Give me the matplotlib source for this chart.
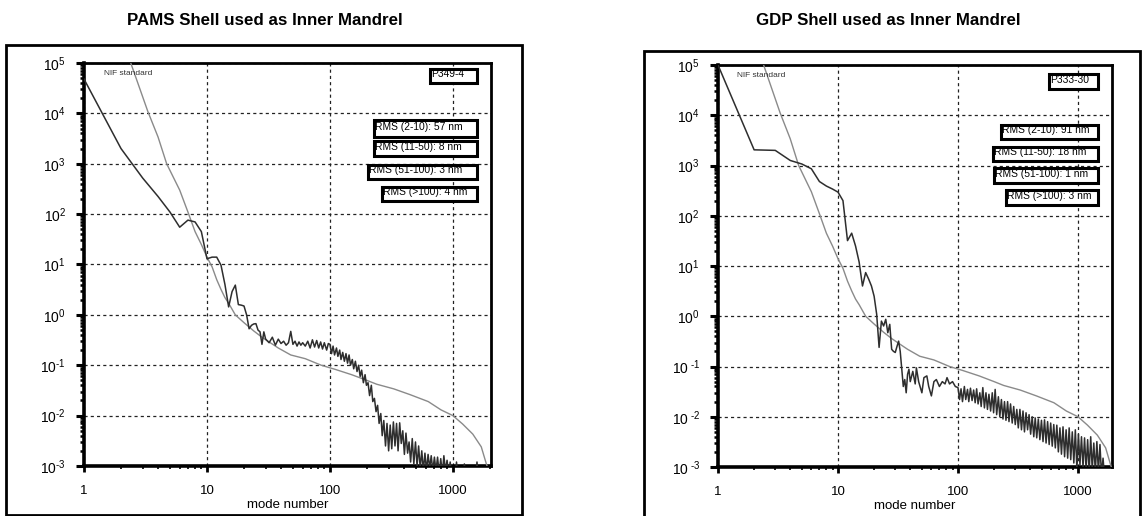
import numpy as np
import matplotlib
matplotlib.use('Agg')
import matplotlib.pyplot as plt
from matplotlib.patches import Rectangle
from matplotlib.ticker import LogLocator, NullFormatter

plt.rcParams['font.family'] = ['Liberation Sans', 'DejaVu Sans']
plt.rcParams['mathtext.fontset'] = 'custom'
plt.rcParams['mathtext.rm'] = 'Liberation Sans'
plt.rcParams['mathtext.it'] = 'Liberation Sans:italic'
plt.rcParams['mathtext.bf'] = 'Liberation Sans:bold'

# NIF standard curve (same on both panels)
nif_modes = [2, 2.4, 3.3, 4, 4.7, 6, 7, 8, 9, 10, 11, 12, 13, 14, 15, 17, 20, 24, 28, 32,
             38, 48, 63, 85, 110, 150, 200, 240, 330, 450, 630, 800, 1000, 1200, 1450,
             1700, 1850, 1950]
nif_values = [3e5, 1e5, 1.1e4, 3400, 1000, 300, 110, 45, 25, 14, 9, 5, 3.2, 2.2, 1.7, 1.0,
              0.7, 0.48, 0.36, 0.29, 0.22, 0.16, 0.135, 0.1, 0.083, 0.065, 0.05, 0.042,
              0.034, 0.026, 0.019, 0.013, 0.010, 0.0068, 0.0043, 0.0024, 0.0012, 0.0008]

# mode numbers of the dense part of the measured spectra (100 and up)
dense_modes = [100, 103, 106, 109, 113, 116, 120, 123, 127, 131,
               135, 139, 143, 147, 152, 156, 161, 166, 171, 176,
               181, 187, 193, 198, 204, 210, 217, 223, 230, 237,
               244, 251, 259, 266, 274, 283, 291, 300, 309, 318,
               328, 338, 348, 358, 369, 380, 391, 403, 415, 428,
               440, 453, 467, 481, 496, 511, 526, 542, 558, 575,
               592, 610, 628, 647, 666, 686, 707, 728, 750, 773,
               796, 820, 844, 870, 896, 923, 950, 979, 1008, 1038,
               1069, 1101, 1134, 1168, 1203, 1239, 1276, 1314, 1354, 1394,
               1436, 1479, 1524, 1569, 1617, 1665]

# PAMS shell P349-4
pams_modes = [1, 2, 3, 4, 5, 6, 7, 8, 9, 10, 11, 12, 13, 14, 15, 16, 17, 18, 19, 20,
              21, 22, 23, 24, 25, 26, 27, 28, 29, 30, 32, 34, 36, 38, 40, 42, 44, 46, 48, 50,
              52, 54, 56, 58, 60, 63, 66, 69, 72, 75, 78, 81, 84, 87, 90, 94, 97]
pams_values = [48000, 2000, 520, 224, 110, 55, 76, 70, 45, 13, 14, 14, 9.7, 4, 1.44, 2.9, 3.9, 1.6, 1.56, 1.5,
               1.0, 0.53, 0.62, 0.66, 0.67, 0.5, 0.46, 0.26, 0.46, 0.33, 0.28, 0.36, 0.25, 0.33, 0.27, 0.3, 0.25, 0.28, 0.47, 0.26,
               0.3, 0.24, 0.29, 0.25, 0.28, 0.24, 0.3, 0.22, 0.32, 0.23, 0.31, 0.22, 0.29, 0.21, 0.28, 0.2, 0.27]
pams_dense = [0.26, 0.17, 0.24, 0.16, 0.22, 0.15, 0.2, 0.13, 0.18, 0.12,
              0.17, 0.11, 0.16, 0.1, 0.13, 0.085, 0.12, 0.075, 0.1, 0.06,
              0.08, 0.045, 0.065, 0.04, 0.045, 0.025, 0.04, 0.019, 0.022, 0.012,
              0.016, 0.007, 0.011, 0.004, 0.008, 0.0025, 0.007, 0.002, 0.0065, 0.0022,
              0.0075, 0.0025, 0.007, 0.002, 0.0072, 0.0028, 0.005, 0.0017, 0.0045, 0.0018,
              0.003, 0.0012, 0.0035, 0.0011, 0.003, 0.001, 0.0025, 0.0009, 0.002, 0.0008,
              0.0018, 0.0008, 0.0017, 0.0009, 0.0016, 0.0008, 0.0015, 0.0008, 0.0015, 0.0007,
              0.0014, 0.0007, 0.0016, 0.0008, 0.0013, 0.0007, 0.0012, 0.0006, 0.0005, 0.0004,
              0.0012, 0.0005, 0.0004, 0.0005, 0.0004, 0.0011, 0.0005, 0.0004, 0.0005, 0.0004,
              0.0005, 0.0004, 0.0005, 0.0012, 0.0005, 0.0004]

# GDP shell P333-30
gdp_modes = [1, 2, 3, 4, 5, 6, 7, 8, 9, 10, 11, 12, 13, 14, 15, 16, 17, 18, 19, 20,
             21, 22, 23, 24, 25, 26, 27, 28, 29, 30, 31, 32, 33, 34, 35, 36, 37, 38, 39, 40,
             42, 44, 45, 47, 50, 52, 55, 57, 60, 63, 66, 70, 74, 78, 81, 85, 90, 95]
gdp_values = [1e5, 2050, 2000, 1260, 1070, 860, 480, 390, 340, 295, 200, 32, 45, 25, 12, 4.0, 7.4, 5.5, 4, 2.5,
              1.1, 0.24, 0.8, 0.64, 0.87, 0.47, 0.69, 0.22, 0.2, 0.19, 0.25, 0.32, 0.2, 0.088, 0.04, 0.055, 0.03, 0.07, 0.088, 0.05,
              0.08, 0.045, 0.094, 0.05, 0.03, 0.06, 0.065, 0.04, 0.026, 0.05, 0.055, 0.04, 0.05, 0.045, 0.06, 0.045, 0.05, 0.04]
gdp_dense = [0.038, 0.022, 0.036, 0.02, 0.04, 0.022, 0.035, 0.02, 0.037, 0.021,
             0.034, 0.019, 0.036, 0.018, 0.03, 0.016, 0.038, 0.015, 0.03, 0.014,
             0.028, 0.013, 0.03, 0.012, 0.035, 0.011, 0.025, 0.01, 0.022, 0.009,
             0.02, 0.0085, 0.02, 0.008, 0.018, 0.0075, 0.016, 0.007, 0.014, 0.006,
             0.014, 0.0055, 0.013, 0.005, 0.012, 0.0055, 0.011, 0.0045, 0.01, 0.004,
             0.0095, 0.0038, 0.009, 0.0035, 0.0085, 0.0032, 0.0087, 0.003, 0.008, 0.0028,
             0.0075, 0.0026, 0.007, 0.0024, 0.0068, 0.002, 0.006, 0.0018, 0.0063, 0.0016,
             0.0055, 0.0015, 0.006, 0.0014, 0.005, 0.0012, 0.0055, 0.0009, 0.0045, 0.0011,
             0.004, 0.001, 0.0038, 0.0009, 0.0035, 0.0008, 0.004, 0.0009, 0.003, 0.0008,
             0.0032, 0.0008, 0.0028, 0.0007, 0.0015, 0.0006]

y_ticks = [1e-3, 1e-2, 1e-1, 1e0, 1e1, 1e2, 1e3, 1e4, 1e5]
y_labels_left = ['$10^{\\text{-}3}$', '$10^{\\text{-}2}$', '$10^{\\text{-}1}$', '$10^{0}$', '$10^{1}$',
                 '$10^{2}$', '$10^{3}$', '$10^{4}$', '$10^{5}$']
y_labels_right = ['$10^{\\ \\text{-}3}$', '$10^{\\ \\text{-}2}$', '$10^{\\ \\text{-}1}$', '$10^{0}$', '$10^{1}$',
                  '$10^{2}$', '$10^{3}$', '$10^{4}$', '$10^{5}$']
x_ticks = [1, 10, 100, 1000]
x_labels = ['1', '10', '100', '1000']

left_boxes = [('P349-4', 0.850, 0.966, 0.950, 0.985),
              ('RMS (2-10): 57 nm', 0.713, 0.966, 0.816, 0.859),
              ('RMS (11-50): 8 nm', 0.713, 0.966, 0.769, 0.806),
              ('RMS (51-100): 3 nm', 0.698, 0.966, 0.712, 0.747),
              ('RMS (>100): 4 nm', 0.732, 0.966, 0.658, 0.692)]
right_boxes = [('P333-30', 0.840, 0.964, 0.940, 0.978),
               ('RMS (2-10): 91 nm', 0.718, 0.964, 0.816, 0.851),
               ('RMS (11-50): 18 nm', 0.698, 0.964, 0.761, 0.796),
               ('RMS (51-100): 1 nm', 0.701, 0.964, 0.706, 0.744),
               ('RMS (>100): 3 nm', 0.731, 0.964, 0.652, 0.689)]


def style_axes(ax, xmax, ylabels):
    ax.set_xscale('log')
    ax.set_yscale('log')
    ax.set_xlim(1, xmax)
    ax.set_ylim(1e-3, 1e5)
    ax.set_yticks(y_ticks)
    ax.set_yticklabels(ylabels)
    ax.set_xticks(x_ticks)
    ax.set_xticklabels(x_labels)
    ax.yaxis.set_minor_locator(LogLocator(base=10, subs=np.arange(2, 10), numticks=100))
    ax.xaxis.set_minor_locator(LogLocator(base=10, subs=np.arange(2, 10), numticks=100))
    ax.yaxis.set_minor_formatter(NullFormatter())
    ax.xaxis.set_minor_formatter(NullFormatter())
    ax.tick_params(axis='y', which='major', direction='out', length=6, width=2.2, pad=7, labelsize=10)
    ax.tick_params(axis='y', which='minor', direction='out', length=3, width=1.8)
    ax.tick_params(axis='x', which='major', direction='out', length=4, width=2, pad=10, labelsize=9.5)
    ax.tick_params(axis='x', which='minor', direction='out', length=2, width=1.2)
    for side in ['left', 'bottom']:
        ax.spines[side].set_linewidth(2.6)
    for side in ['top', 'right']:
        ax.spines[side].set_linewidth(2.0)
    ax.grid(True, which='major', color='#222222', linestyle=(0, (2.5, 2.5)), linewidth=0.9)
    ax.set_xlabel('mode number', fontsize=9.5, labelpad=1)


def draw_boxes(ax, boxes):
    for text, x0, x1, y0, y1 in boxes:
        rect = Rectangle((x0, y0), x1 - x0, y1 - y0, transform=ax.transAxes,
                         facecolor='white', edgecolor='black', linewidth=2.2, zorder=5)
        ax.add_patch(rect)
        t = ax.text(x0 + 0.003, (y0 + y1) / 2 + 0.004, text, transform=ax.transAxes,
                    fontsize=7.4, ha='left', va='center', zorder=6)
        t.set_clip_path(rect)


fig = plt.figure(figsize=(11.44, 5.16), dpi=100)

# outer frames around each panel
fig.patches.append(Rectangle((0.00524, 0.002), 0.45105, 0.9109, transform=fig.transFigure,
                             fill=False, edgecolor='black', linewidth=2))
fig.patches.append(Rectangle((0.56294, -0.01), 0.4335, 0.9112, transform=fig.transFigure,
                             fill=False, edgecolor='black', linewidth=2))

fig.text(0.2316, 0.9612, 'PAMS Shell used as Inner Mandrel', ha='center', va='center',
         fontsize=12.2, fontweight='bold')
fig.text(0.7762, 0.9612, 'GDP Shell used as Inner Mandrel', ha='center', va='center',
         fontsize=12.2, fontweight='bold')

# left panel
ax1 = fig.add_axes([0.07343, 0.0969, 0.35577, 0.78101])
ax1.plot(nif_modes, nif_values, color='#8a8a8a', linewidth=1.0, zorder=3)
ax1.plot(pams_modes + dense_modes, pams_values + pams_dense, color='#2e2e2e', linewidth=1.1, zorder=4)
style_axes(ax1, 2040, y_labels_left)
ax1.text(0.049, 0.975, 'NIF standard', transform=ax1.transAxes, fontsize=6,
         ha='left', va='center', color='#333333')
draw_boxes(ax1, left_boxes)

# right panel
ax2 = fig.add_axes([0.62762, 0.09496, 0.34441, 0.77907])
ax2.plot(nif_modes, nif_values, color='#8a8a8a', linewidth=1.0, zorder=3)
ax2.plot(gdp_modes + dense_modes, gdp_values + gdp_dense, color='#2e2e2e', linewidth=1.1, zorder=4)
style_axes(ax2, 1920, y_labels_right)
ax2.text(0.048, 0.973, 'NIF standard', transform=ax2.transAxes, fontsize=6,
         ha='left', va='center', color='#333333')
draw_boxes(ax2, right_boxes)

fig.savefig('out.png', dpi=100)
plt.close(fig)
